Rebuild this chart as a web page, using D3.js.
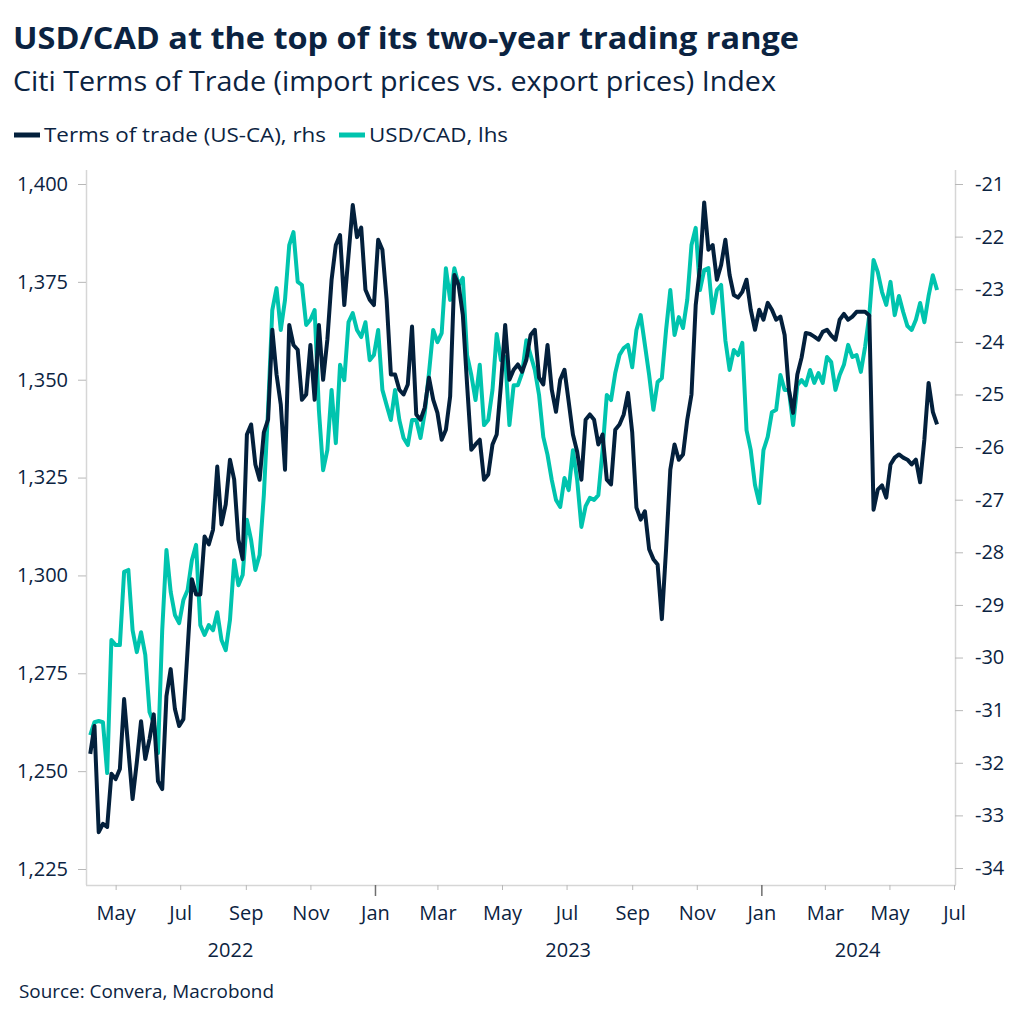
<!DOCTYPE html>
<html><head><meta charset="utf-8">
<script src="https://cdn.jsdelivr.net/npm/d3@7"></script>
<style>
body{margin:0;background:#fff;}
svg{display:block;font-family:"Open Sans",sans-serif;}
</style></head><body>
<svg id="chart" width="1022" height="1024"></svg>
<script>
const titleText = "USD/CAD at the top of its two-year trading range";
const subtitleText = "Citi Terms of Trade (import prices vs. export prices) Index";
const sourceText = "Source: Convera, Macrobond";
const seriesNames = ["Terms of trade (US-CA), rhs", "USD/CAD, lhs"];

const dataStart = "2022-04-07";
const stepDays = 4;

const usdcad = [
1259.2,1262.5,1262.8,1262.5,1249.5,1283.5,1282.2,1282.2,1300.9,1301.4,
1286.0,1280.4,1285.5,1279.7,1265.1,1262.3,1254.6,1286.0,1306.5,1295.8,
1289.9,1287.8,1293.7,1296.3,1303.9,1307.8,1287.3,1284.8,1287.3,1286.0,
1290.6,1283.5,1280.9,1288.6,1303.9,1297.5,1300.1,1314.2,1309.0,1301.4,
1305.2,1320.5,1342.3,1367.8,1373.4,1362.7,1370.4,1384.4,1387.7,1375.0,
1374.2,1364.0,1365.3,1367.8,1342.3,1326.9,1332.0,1347.4,1333.8,1353.8,
1349.9,1364.7,1367.0,1362.7,1360.9,1364.7,1355.0,1356.3,1362.7,1347.4,
1343.5,1339.7,1347.4,1339.7,1335.1,1333.3,1339.7,1339.7,1335.1,1341.5,
1351.7,1362.7,1359.6,1361.9,1378.5,1370.4,1378.5,1374.2,1376.0,1356.3,
1351.2,1344.8,1353.8,1338.4,1339.7,1347.4,1361.7,1355.0,1355.8,1338.4,
1348.6,1348.6,1351.7,1360.1,1356.3,1352.5,1346.1,1335.4,1330.8,1324.4,
1319.3,1317.5,1324.9,1321.8,1332.0,1324.4,1312.4,1317.7,1319.8,1319.3,
1320.5,1332.0,1346.1,1344.8,1351.7,1356.3,1358.1,1358.9,1353.2,1362.7,
1366.5,1358.9,1351.2,1342.3,1349.4,1350.4,1362.7,1372.9,1361.4,1366.0,
1363.2,1370.4,1384.4,1388.8,1372.9,1378.0,1378.5,1367.0,1372.9,1374.2,
1360.1,1352.5,1357.6,1356.3,1359.4,1337.1,1332.0,1323.1,1318.5,1332.0,
1335.4,1341.7,1342.3,1351.2,1347.4,1347.4,1338.4,1348.6,1349.9,1348.6,
1352.5,1349.2,1351.7,1349.2,1355.8,1354.5,1347.4,1351.2,1353.8,1358.9,
1355.8,1356.3,1352.0,1358.4,1366.5,1380.6,1377.5,1372.4,1369.1,1375.0,
1366.5,1371.4,1367.3,1363.7,1362.7,1365.3,1369.6,1364.7,1371.4,1376.7,
1372.9];

const termsOfTrade = [
-31.83,-31.30,-33.32,-33.16,-33.22,-32.21,-32.31,-32.12,-30.79,-31.74,
-32.69,-31.99,-31.21,-31.93,-31.55,-31.08,-32.35,-32.50,-30.73,-30.22,
-30.98,-31.30,-31.17,-29.84,-28.51,-28.80,-28.80,-27.70,-27.85,-27.57,
-26.37,-27.47,-27.09,-26.24,-26.62,-27.76,-28.13,-25.76,-25.57,-26.33,
-26.62,-25.72,-25.48,-23.77,-24.62,-25.19,-26.43,-23.68,-24.06,-24.15,
-25.10,-25.00,-24.06,-25.10,-23.68,-24.72,-23.96,-22.82,-22.16,-21.97,
-23.30,-22.35,-21.40,-22.01,-21.83,-23.01,-23.20,-23.30,-22.06,-22.25,
-23.20,-24.62,-24.62,-24.91,-25.00,-24.81,-23.71,-25.38,-25.48,-25.25,
-24.68,-25.10,-25.35,-25.86,-25.67,-25.04,-22.73,-22.92,-23.49,-24.81,
-26.05,-25.95,-25.86,-26.62,-26.52,-25.95,-25.76,-24.81,-23.68,-24.72,
-24.53,-24.43,-24.57,-24.34,-23.87,-23.77,-24.68,-24.81,-24.06,-24.91,
-25.33,-24.72,-24.53,-25.14,-25.76,-26.09,-26.62,-25.48,-25.38,-25.48,
-25.95,-25.76,-26.62,-26.71,-25.67,-25.57,-25.38,-24.97,-25.72,-27.15,
-27.38,-27.22,-27.94,-28.13,-28.23,-29.27,-27.94,-26.43,-25.95,-26.24,
-26.14,-25.48,-25.00,-23.30,-22.59,-21.35,-22.25,-22.16,-22.82,-22.54,
-22.06,-22.73,-23.11,-23.16,-23.05,-22.82,-23.39,-23.77,-23.39,-23.58,
-23.26,-23.39,-23.58,-23.52,-23.87,-24.91,-25.35,-24.62,-24.30,-23.83,
-23.85,-23.90,-23.96,-23.81,-23.77,-23.88,-23.96,-23.58,-23.47,-23.58,
-23.52,-23.43,-23.43,-23.43,-23.50,-27.19,-26.81,-26.73,-26.96,-26.33,
-26.20,-26.14,-26.20,-26.24,-26.33,-26.24,-26.67,-25.86,-24.78,-25.33,
-25.57];

const leftTicks = [1225,1250,1275,1300,1325,1350,1375,1400];
const rightTicks = [-34,-33,-32,-31,-30,-29,-28,-27,-26,-25,-24,-23,-22,-21];
const monthTicks = ["2022-05-01","2022-07-01","2022-09-01","2022-11-01","2023-01-01","2023-03-01","2023-05-01","2023-07-01","2023-09-01","2023-11-01","2024-01-01","2024-03-01","2024-05-01","2024-07-01"];
const monthLabels = ["May","Jul","Sep","Nov","Jan","Mar","May","Jul","Sep","Nov","Jan","Mar","May","Jul"];
const yearLabels = ["2022","2023","2024"];

const W = 1022, H = 1024;
const ink = "#0b2341", navy = "#03203c", teal = "#00c4ae", axisGray = "#d6d6d6", tickGray = "#b8b8b8";

const svg = d3.select("#chart");
svg.append("rect").attr("width", W).attr("height", H).attr("fill", "#fff");

const parse = d3.utcParse("%Y-%m-%d");
const t0 = parse(dataStart);
const dates = usdcad.map((_, i) => d3.utcDay.offset(t0, i * stepDays));

const x = d3.scaleUtc().domain([parse("2022-04-03"), parse("2024-07-01")]).range([86, 954]);
const yL = d3.scaleLinear().domain([1225, 1400]).range([869, 184]);
const yR = d3.scaleLinear().domain([-34, -21]).range([868, 184]);

// Titles
svg.append("text").attr("x", 13).attr("y", 49).attr("fill", ink)
  .attr("font-size", 30).attr("font-weight", 700)
  .attr("textLength", 786).attr("lengthAdjust", "spacingAndGlyphs").text(titleText);
svg.append("text").attr("x", 13).attr("y", 91).attr("fill", ink)
  .attr("font-size", 27)
  .attr("textLength", 763).attr("lengthAdjust", "spacingAndGlyphs").text(subtitleText);

// Legend
const leg = svg.append("g");
leg.append("line").attr("x1", 14).attr("x2", 40).attr("y1", 135).attr("y2", 135)
  .attr("stroke", navy).attr("stroke-width", 5);
leg.append("text").attr("x", 44).attr("y", 142).attr("fill", ink).attr("font-size", 20)
  .attr("textLength", 282).attr("lengthAdjust", "spacingAndGlyphs").text(seriesNames[0]);
leg.append("line").attr("x1", 339).attr("x2", 365).attr("y1", 135).attr("y2", 135)
  .attr("stroke", teal).attr("stroke-width", 5);
leg.append("text").attr("x", 369).attr("y", 142).attr("fill", ink).attr("font-size", 20)
  .attr("textLength", 139).attr("lengthAdjust", "spacingAndGlyphs").text(seriesNames[1]);

// Axis frame lines
svg.append("line").attr("x1", 86.5).attr("x2", 86.5).attr("y1", 170).attr("y2", 885)
  .attr("stroke", axisGray).attr("stroke-width", 1.5);
svg.append("line").attr("x1", 955.5).attr("x2", 955.5).attr("y1", 170).attr("y2", 885)
  .attr("stroke", axisGray).attr("stroke-width", 1.5);
svg.append("line").attr("x1", 86).attr("x2", 956).attr("y1", 885.5).attr("y2", 885.5)
  .attr("stroke", axisGray).attr("stroke-width", 1.5);

// Left axis
const gL = svg.append("g").attr("transform", "translate(86,0)")
  .call(d3.axisLeft(yL).tickValues(leftTicks).tickFormat(d3.format(",")).tickSize(8).tickPadding(10).tickSizeOuter(0));
gL.select(".domain").remove();
gL.selectAll(".tick line").attr("stroke", tickGray);
gL.selectAll(".tick text").attr("fill", ink).attr("font-size", 20).attr("font-family", "'Open Sans',sans-serif");

// Right axis
const gR = svg.append("g").attr("transform", "translate(955,0)")
  .call(d3.axisRight(yR).tickValues(rightTicks).tickFormat(d => String(d)).tickSize(8).tickPadding(12).tickSizeOuter(0));
gR.select(".domain").remove();
gR.selectAll(".tick line").attr("stroke", tickGray);
gR.selectAll(".tick text").attr("fill", ink).attr("font-size", 20).attr("font-family", "'Open Sans',sans-serif");

// Bottom axis
const mDates = monthTicks.map(parse);
const gB = svg.append("g").attr("transform", "translate(0,885)")
  .call(d3.axisBottom(x).tickValues(mDates).tickFormat((d, i) => monthLabels[i]).tickSize(5).tickPadding(16).tickSizeOuter(0));
gB.select(".domain").remove();
gB.selectAll(".tick line")
  .attr("stroke", d => d.getUTCMonth() === 0 ? "#6f6f6f" : tickGray)
  .attr("stroke-width", d => d.getUTCMonth() === 0 ? 1.5 : 1)
  .attr("y2", d => d.getUTCMonth() === 0 ? 11 : 5);
gB.selectAll(".tick text").attr("fill", ink).attr("font-size", 20).attr("font-family", "'Open Sans',sans-serif");

// Year labels
const dom = x.domain();
yearLabels.forEach(yr => {
  const a = d3.max([parse(yr + "-01-01"), dom[0]]);
  const b = d3.min([parse((+yr + 1) + "-01-01"), dom[1]]);
  svg.append("text").attr("x", (x(a) + x(b)) / 2).attr("y", 957)
    .attr("text-anchor", "middle").attr("fill", ink).attr("font-size", 20).text(yr);
});

// Lines
const lineL = d3.line().x((d, i) => x(dates[i])).y(d => yL(d));
const lineR = d3.line().x((d, i) => x(dates[i])).y(d => yR(d));
svg.append("path").datum(usdcad).attr("d", lineL).attr("fill", "none")
  .attr("stroke", teal).attr("stroke-width", 4).attr("stroke-linejoin", "round");
svg.append("path").datum(termsOfTrade).attr("d", lineR).attr("fill", "none")
  .attr("stroke", navy).attr("stroke-width", 4).attr("stroke-linejoin", "round");

// Source
svg.append("text").attr("x", 19).attr("y", 998).attr("fill", ink).attr("font-size", 18)
  .attr("textLength", 255).attr("lengthAdjust", "spacingAndGlyphs").text(sourceText);
</script>
</body></html>
